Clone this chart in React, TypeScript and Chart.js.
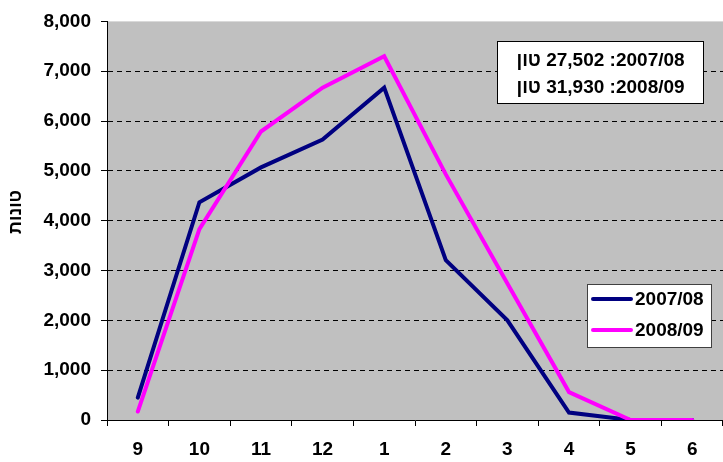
import { useEffect, useRef } from 'react';
import { Chart, registerables } from 'chart.js';

Chart.register(...registerables);

const categories = ['9', '10', '11', '12', '1', '2', '3', '4', '5', '6'];
const series0708 = [450, 4370, 5070, 5630, 6670, 3210, 2000, 150, 0, 0];
const series0809 = [170, 3830, 5790, 6670, 7300, 4930, 2740, 560, 0, 0];
const seriesLabels = ['2007/08', '2008/09'];
const seriesColors = ['#000080', '#FF00FF'];
const yMin = 0;
const yMax = 8000;
const yStep = 1000;
const yTitle = 'טונות';
const totalsLines = ['2007/08: 27,502 טון', '2008/09: 31,930 טון'];

const FONT_FAMILY = "Arial, 'Liberation Sans', sans-serif";

const decorPlugin = {
  id: 'decor',
  beforeDraw(chart: any) {
    const { ctx, chartArea } = chart;
    ctx.save();
    ctx.fillStyle = '#C0C0C0';
    ctx.fillRect(chartArea.left, chartArea.top, chartArea.right - chartArea.left, chartArea.bottom - chartArea.top);
    ctx.restore();
  },
  afterDraw(chart: any) {
    const { ctx } = chart;
    // y axis title
    ctx.save();
    ctx.translate(16, 212);
    ctx.rotate(-Math.PI / 2);
    ctx.font = `bold 18px ${FONT_FAMILY}`;
    ctx.fillStyle = '#000';
    ctx.textAlign = 'center';
    ctx.textBaseline = 'middle';
    (ctx as any).direction = 'rtl';
    ctx.fillText(yTitle, 0, 0);
    ctx.restore();

    // totals box
    ctx.save();
    ctx.fillStyle = '#FFFFFF';
    ctx.fillRect(497, 41, 207, 63);
    ctx.strokeStyle = '#000';
    ctx.lineWidth = 1;
    ctx.strokeRect(497.5, 41.5, 206, 62);
    ctx.font = `bold 19px ${FONT_FAMILY}`;
    ctx.fillStyle = '#000';
    ctx.textAlign = 'center';
    ctx.textBaseline = 'middle';
    (ctx as any).direction = 'rtl';
    totalsLines.forEach((t, i) => ctx.fillText(t, 600.5, 61 + i * 27));
    ctx.restore();

    // legend
    ctx.save();
    ctx.fillStyle = '#FFFFFF';
    ctx.fillRect(587, 284, 125, 64);
    ctx.strokeStyle = '#404040';
    ctx.lineWidth = 1;
    ctx.strokeRect(587.5, 284.5, 124, 63);
    const dsets = chart.data.datasets;
    dsets.forEach((ds: any, i: number) => {
      const y = 299 + i * 31;
      ctx.strokeStyle = ds.borderColor;
      ctx.lineWidth = 4;
      ctx.lineCap = 'round';
      ctx.beginPath();
      ctx.moveTo(593, y);
      ctx.lineTo(631, y);
      ctx.stroke();
      ctx.font = `bold 19px ${FONT_FAMILY}`;
      ctx.fillStyle = '#000';
      ctx.textAlign = 'left';
      ctx.textBaseline = 'middle';
      ctx.fillText(ds.label, 635, y + 1);
    });
    ctx.restore();
  },
};

export default function App() {
  const ref = useRef<HTMLCanvasElement | null>(null);
  useEffect(() => {
    if (!ref.current) return;
    const chart = new Chart(ref.current, {
      type: 'line',
      data: {
        labels: categories,
        datasets: [
          {
            label: seriesLabels[0],
            data: series0708,
            borderColor: seriesColors[0],
            backgroundColor: seriesColors[0],
            borderWidth: 4,
            pointRadius: 0,
            tension: 0,
            borderCapStyle: 'round',
            order: 1,
          },
          {
            label: seriesLabels[1],
            data: series0809,
            borderColor: seriesColors[1],
            backgroundColor: seriesColors[1],
            borderWidth: 4,
            pointRadius: 0,
            tension: 0,
            borderCapStyle: 'round',
            order: 0,
          },
        ],
      },
      options: {
        responsive: false,
        animation: false,
        devicePixelRatio: 1,
        layout: { padding: { top: 20, left: 0, right: 0, bottom: 0 } },
        plugins: {
          legend: { display: false },
          tooltip: { enabled: false },
          title: { display: false },
        },
        scales: {
          x: {
            type: 'category',
            offset: true,
            grid: {
              offset: true,
              drawOnChartArea: false,
              drawTicks: true,
              tickLength: 6,
              color: '#000',
              tickColor: '#000',
            },
            border: { display: true, color: '#000', width: 1 },
            ticks: {
              color: '#000',
              font: { family: FONT_FAMILY, size: 19, weight: 'bold' },
              padding: 12,
              maxRotation: 0,
              autoSkip: false,
            },
            afterFit(scale: any) {
              scale.height = 42;
            },
          },
          y: {
            min: yMin,
            max: yMax,
            grid: {
              drawOnChartArea: true,
              drawTicks: true,
              tickLength: 6,
              color: (c: any) => (c.tick && (c.tick.value === yMin || c.tick.value === yMax) ? 'rgba(0,0,0,0)' : '#000'),
              tickColor: '#000',
              tickBorderDash: [],
              lineWidth: 1,
            },
            border: { display: true, color: '#000', width: 1, dash: [5, 4] },
            ticks: {
              stepSize: yStep,
              color: '#000',
              font: { family: FONT_FAMILY, size: 19, weight: 'bold' },
              padding: 10,
              callback: (v: any) => Number(v).toLocaleString('en-US'),
            },
            afterFit(scale: any) {
              scale.width = 107;
            },
          },
        },
      },
      plugins: [decorPlugin],
    } as any);
    return () => chart.destroy();
  }, []);
  return (
    <div style={{ position: 'absolute', left: 0, top: 0, width: 723, height: 462 }}>
      <canvas ref={ref} width={723} height={462} style={{ display: 'block' }} />
    </div>
  );
}
